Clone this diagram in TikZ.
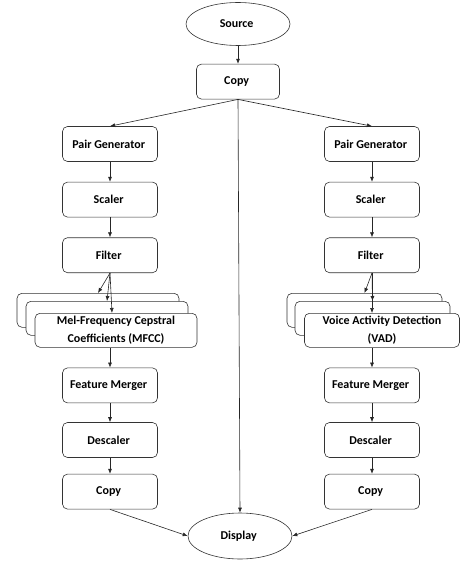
\documentclass[tikz,border=0pt]{standalone}
\usepackage{fontspec}
\setmainfont{Carlito}
\usepackage{tikz}
\usetikzlibrary{positioning,arrows.meta,shapes.geometric}

\begin{document}
\begin{tikzpicture}[x = 1pt, y = -1pt,
    every node/.style = { font = \bfseries\fontsize{12}{18}\selectfont, align = center },
    box/.style = { draw = black!80, line width = .6pt, rounded corners = 5pt, fill = white,
                   minimum width = 95pt, minimum height = 35pt, inner sep = 2pt },
    term/.style = { draw = black!80, line width = .6pt, ellipse, minimum width = 104pt,
                    minimum height = 43pt, inner sep = 0pt },
    widebox/.style = { box, minimum width = #1, minimum height = 34pt },
    arr/.style = { draw = black!85, line width = .6pt, -{Latex[length = 5pt, width = 4pt]} }]
  \useasboundingbox (0,0) rectangle (461,561);

  % source and first copy
  \node [term] (src) at (238,24) { Source };
  \node [box, minimum width = 83pt, below = 18pt of src] (copy) { Copy };

  % left branch
  \node [box] (pgL) at (110,144) { Pair Generator };
  \node [box, below = 20pt of pgL] (scL) { Scaler };
  \node [box, below = 20pt of scL] (flL) { Filter };
  \node [widebox = 162pt, below = 20pt of flL, xshift = -12pt] (mfccA) {};
  \node [widebox = 162pt, below = 28pt of flL, xshift = -3pt] (mfccB) {};
  \node [widebox = 162pt, below = 40pt of flL, xshift = 6pt] (mfcc)
    { Mel-Frequency Cepstral \\ Coefficients (MFCC) };
  \node [box, below = 20pt of mfcc, xshift = -6pt] (fmL) { Feature Merger };
  \node [box, below = 19pt of fmL] (dsL) { Descaler };
  \node [box, below = 16pt of dsL] (cpL) { Copy };

  % right branch
  \node [box] (pgR) at (372,144) { Pair Generator };
  \node [box, below = 20pt of pgR] (scR) { Scaler };
  \node [box, below = 20pt of scR] (flR) { Filter };
  \node [widebox = 155pt, below = 20pt of flR, xshift = -7.5pt] (vadA) {};
  \node [widebox = 155pt, below = 28pt of flR, xshift = .5pt] (vadB) {};
  \node [widebox = 155pt, below = 40pt of flR, xshift = 10pt] (vad)
    { Voice Activity Detection \\ (VAD) };
  \node [box, below = 20pt of vad, xshift = -10pt] (fmR) { Feature Merger };
  \node [box, below = 19pt of fmR] (dsR) { Descaler };
  \node [box, below = 16pt of dsR] (cpR) { Copy };

  \node [term, minimum height = 46pt] (disp) at (240,536) { Display };

  % connectors
  \draw [arr] (src) -- (copy);
  \draw [arr] (copy.south) -- (pgL.north);
  \draw [arr] (copy.south) -- (pgR.north);
  \draw [arr] (copy.south) -- (disp.north);
  \foreach \col in {L,R} {
    \draw [arr] (pg\col) -- (sc\col);
    \draw [arr] (sc\col) -- (fl\col);
    \draw [arr] (fm\col) -- (ds\col);
    \draw [arr] (ds\col) -- (cp\col);
  }
  \draw [arr] (flL.south) -- (mfccA.north);
  \draw [arr] (flL.south) -- (mfccB.north);
  \draw [arr] (flL.south) -- ([xshift = 2pt] flL.south |- mfcc.north);
  \draw [arr] (mfcc.south -| fmL) -- (fmL);
  \draw [arr] (flR.south) -- (vadA.north);
  \draw [arr] (flR.south) -- (vadB.north);
  \draw [arr] (flR.south) -- (flR.south |- vad.north);
  \draw [arr] (vad.south -| fmR) -- (fmR);
  \draw [arr] (cpL.south) -- (disp.west);
  \draw [arr] (cpR.south) -- (disp.east);
\end{tikzpicture}
\end{document}
